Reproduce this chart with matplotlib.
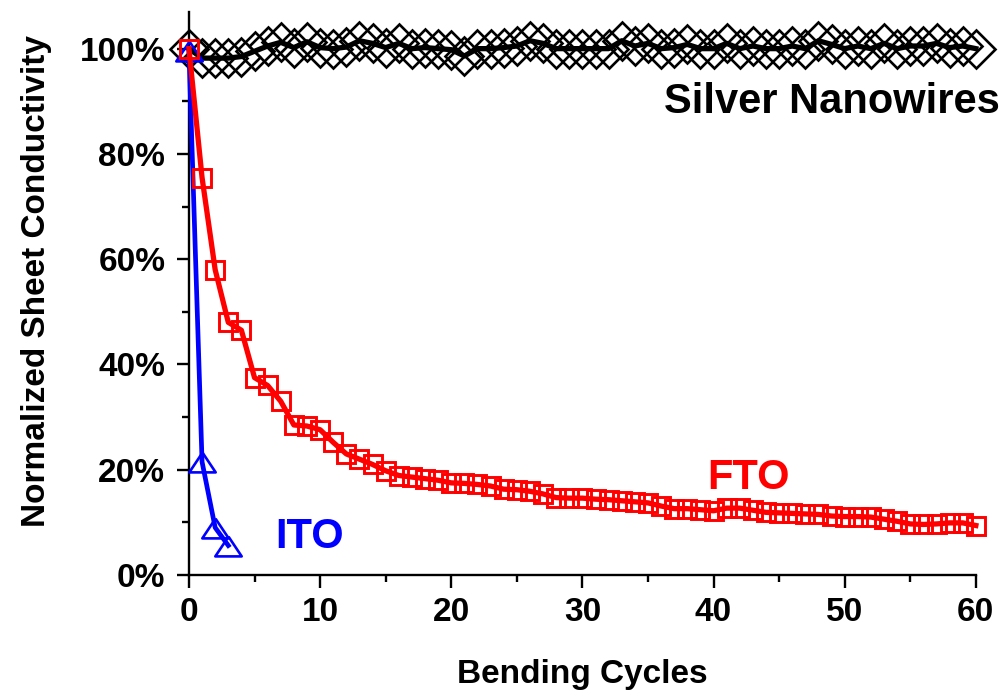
import numpy as np
import matplotlib
matplotlib.use("Agg")
import matplotlib.pyplot as plt
from matplotlib.ticker import MultipleLocator, FuncFormatter

plt.rcParams['font.family'] = ['Liberation Sans', 'DejaVu Sans']
plt.rcParams['font.weight'] = 'bold'

# Sheet conductivity vs bending cycles (percent of initial value)
cycles = np.arange(0, 61)

silver = [100, 98.2, 98.2, 98.2, 98.5, 99.5, 100.5, 101.2, 100.2, 101.3,
          100.2, 100, 100.3, 101.5, 101, 100.2, 101, 100, 100.2, 100,
          99.8, 98.6, 100, 100, 100.2, 100.5, 101.5, 101, 100, 100,
          100, 100, 100, 101.5, 100.5, 101, 100, 100.2, 100.8, 100,
          100, 101, 100, 100.5, 100, 100, 100.5, 100, 101.5, 100.8,
          100, 100.5, 100, 101, 100, 100.5, 100.5, 101, 100.2, 100.5,
          100]

fto = [100, 75.5, 58, 48, 46.5, 37.5, 36, 33, 28.5, 28.3,
       27.6, 25.2, 23, 22, 21, 19.8, 18.9, 18.6, 18.3, 18,
       17.5, 17.4, 17.2, 16.9, 16.3, 16.2, 15.9, 15.4, 14.7, 14.6,
       14.6, 14.4, 14.3, 14.1, 13.9, 13.7, 13.1, 12.6, 12.6, 12.4,
       12.2, 12.7, 12.7, 12.3, 11.9, 11.8, 11.7, 11.6, 11.5, 11.2,
       11.1, 11.1, 11.0, 10.6, 10.2, 9.7, 9.6, 9.7, 9.9, 9.9,
       9.4]

ito_cycles = [0, 1, 2, 3]
ito = [99.5, 21.5, 9.0, 5.6]

# wide, flat triangle used for the ITO points
tri = [(0, 0.75), (-1, -0.75), (1, -0.75), (0, 0.75)]

fig = plt.figure(figsize=(10.05, 6.94), dpi=100)
ax = fig.add_axes([0.188, 0.1715, 0.783, 0.8115])

ax.plot(cycles, silver, color='black', lw=3.8, marker='D', ms=19,
        mfc='none', mec='black', mew=1.9, zorder=2, clip_on=False)
ax.plot(ito_cycles, ito, color='blue', lw=3.4, marker=tri, ms=19,
        mfc='none', mec='blue', mew=1.9, zorder=3, clip_on=False)
ax.plot(cycles, fto, color='red', lw=3.8, marker='s', ms=12.3,
        mfc='none', mec='red', mew=2.1, zorder=4, clip_on=False)

ax.text(61.8, 87.8, 'Silver Nanowires', ha='right', va='baseline',
        fontsize=30, color='black')
ax.text(39.5, 16.3, 'FTO', ha='left', va='baseline', fontsize=30, color='red')
ax.text(6.6, 5.1, 'ITO', ha='left', va='baseline', fontsize=30, color='blue')

ax.set_xlim(0, 60)
ax.set_ylim(0, 107)
ax.xaxis.set_major_locator(MultipleLocator(10))
ax.xaxis.set_minor_locator(MultipleLocator(5))
ax.yaxis.set_major_locator(MultipleLocator(20))
ax.yaxis.set_minor_locator(MultipleLocator(10))
ax.yaxis.set_major_formatter(FuncFormatter(lambda v, p: f'{v:.0f}%'))

for s in ['top', 'right']:
    ax.spines[s].set_visible(False)
for s in ['left', 'bottom']:
    ax.spines[s].set_linewidth(1.7)

ax.tick_params(which='major', direction='out', length=9, width=1.7,
               labelsize=24)
ax.tick_params(which='minor', direction='out', length=5, width=1.7)
ax.tick_params(axis='x', which='major', pad=7)
ax.tick_params(axis='y', which='major', pad=8)

ax.set_xlabel('Bending Cycles', fontsize=24, fontweight='bold')
ax.set_ylabel('Normalized Sheet Conductivity', fontsize=24, fontweight='bold')
ax.xaxis.set_label_coords(0.5, -0.149)
ax.yaxis.set_label_coords(-0.174, 0.522)

fig.savefig('out.png', dpi=100)
